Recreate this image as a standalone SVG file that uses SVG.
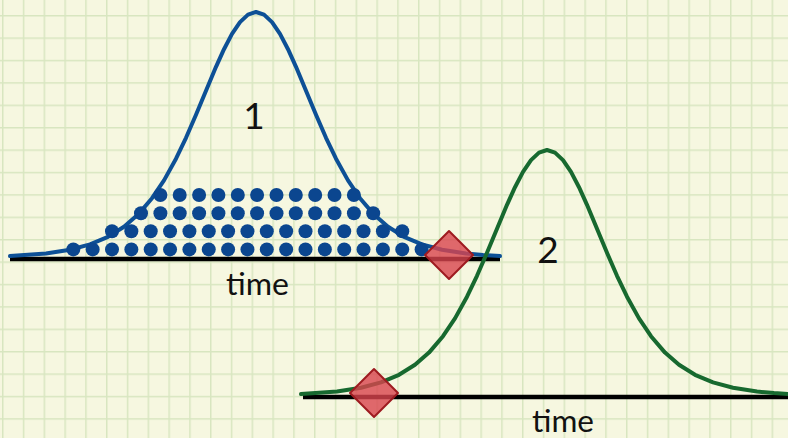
<svg xmlns="http://www.w3.org/2000/svg" width="788" height="438" viewBox="0 0 788 438">
<defs>
<pattern id="gridpat" x="2" y="15" width="20.8" height="22.4" patternUnits="userSpaceOnUse">
<path d="M0.75,0 V22.4 M0,0.75 H20.8" stroke="#d8e6c0" stroke-width="1.5" fill="none"/>
</pattern>
<path id="bell" d="M10,256.1 L46,253.5 L70,249.8 L90,244.4 L108,236.8 L124,226.8 L138,214.6 L152,198.2 L164,180.4 L176,158.7 L186,137.8 L196,114.8 L206,90.7 L216,66.8 L224,49.2 L232,33.9 L240,22.1 L248,14.6 L256,12 L264,14.6 L272,22.1 L280,33.9 L288,49.2 L296,66.8 L306,90.7 L316,114.8 L326,137.8 L336,158.7 L348,180.4 L360,198.2 L374,214.6 L388,226.8 L404,236.8 L422,244.4 L442,249.8 L466,253.5 L483,255.1 L500,256.1"/>
<path id="diamond" d="M0,-24 L24,0 L0,24 L-24,0 Z"/>
</defs>
<style>
.axis{stroke:#000;stroke-width:4.5;fill:none}
.curve{fill:none;stroke-width:4;stroke-linejoin:round;stroke-linecap:round}
.dot{fill:#0b468f}
.dia{fill:#d9434e;fill-opacity:0.8;stroke:#9e1b20;stroke-width:2;stroke-linejoin:round}
.lbl{font-family:Lato,"Open Sans","Liberation Sans",sans-serif;fill:#111}
</style>
<rect width="788" height="438" fill="#f6f7e0"/>
<rect width="788" height="438" fill="url(#gridpat)"/>

<g id="distribution1">
<line class="axis" x1="10" y1="259" x2="500" y2="259"/>
<use href="#bell" class="curve" stroke="#0d5096"/>
<g id="dots">
<circle class="dot" cx="73.3" cy="249.4" r="7"/><circle class="dot" cx="92.65" cy="249.4" r="7"/><circle class="dot" cx="112" cy="249.4" r="7"/><circle class="dot" cx="131.35" cy="249.4" r="7"/><circle class="dot" cx="150.7" cy="249.4" r="7"/><circle class="dot" cx="170.05" cy="249.4" r="7"/><circle class="dot" cx="189.4" cy="249.4" r="7"/><circle class="dot" cx="208.75" cy="249.4" r="7"/><circle class="dot" cx="228.1" cy="249.4" r="7"/><circle class="dot" cx="247.45" cy="249.4" r="7"/><circle class="dot" cx="266.8" cy="249.4" r="7"/><circle class="dot" cx="286.15" cy="249.4" r="7"/><circle class="dot" cx="305.5" cy="249.4" r="7"/><circle class="dot" cx="324.85" cy="249.4" r="7"/><circle class="dot" cx="344.2" cy="249.4" r="7"/><circle class="dot" cx="363.55" cy="249.4" r="7"/><circle class="dot" cx="382.9" cy="249.4" r="7"/><circle class="dot" cx="402.25" cy="249.4" r="7"/><circle class="dot" cx="421.6" cy="249.4" r="7"/>
<circle class="dot" cx="112" cy="231.3" r="7"/><circle class="dot" cx="131.35" cy="231.3" r="7"/><circle class="dot" cx="150.7" cy="231.3" r="7"/><circle class="dot" cx="170.05" cy="231.3" r="7"/><circle class="dot" cx="189.4" cy="231.3" r="7"/><circle class="dot" cx="208.75" cy="231.3" r="7"/><circle class="dot" cx="228.1" cy="231.3" r="7"/><circle class="dot" cx="247.45" cy="231.3" r="7"/><circle class="dot" cx="266.8" cy="231.3" r="7"/><circle class="dot" cx="286.15" cy="231.3" r="7"/><circle class="dot" cx="305.5" cy="231.3" r="7"/><circle class="dot" cx="324.85" cy="231.3" r="7"/><circle class="dot" cx="344.2" cy="231.3" r="7"/><circle class="dot" cx="363.55" cy="231.3" r="7"/><circle class="dot" cx="382.9" cy="231.3" r="7"/><circle class="dot" cx="402.25" cy="231.3" r="7"/>
<circle class="dot" cx="141" cy="213.2" r="7"/><circle class="dot" cx="160.4" cy="213.2" r="7"/><circle class="dot" cx="179.7" cy="213.2" r="7"/><circle class="dot" cx="199.1" cy="213.2" r="7"/><circle class="dot" cx="218.4" cy="213.2" r="7"/><circle class="dot" cx="237.8" cy="213.2" r="7"/><circle class="dot" cx="257.1" cy="213.2" r="7"/><circle class="dot" cx="276.5" cy="213.2" r="7"/><circle class="dot" cx="295.8" cy="213.2" r="7"/><circle class="dot" cx="315.2" cy="213.2" r="7"/><circle class="dot" cx="334.5" cy="213.2" r="7"/><circle class="dot" cx="353.9" cy="213.2" r="7"/><circle class="dot" cx="373.2" cy="213.2" r="7"/>
<circle class="dot" cx="160.4" cy="195" r="7"/><circle class="dot" cx="179.7" cy="195" r="7"/><circle class="dot" cx="199.1" cy="195" r="7"/><circle class="dot" cx="218.4" cy="195" r="7"/><circle class="dot" cx="237.8" cy="195" r="7"/><circle class="dot" cx="257.1" cy="195" r="7"/><circle class="dot" cx="276.5" cy="195" r="7"/><circle class="dot" cx="295.8" cy="195" r="7"/><circle class="dot" cx="315.2" cy="195" r="7"/><circle class="dot" cx="334.5" cy="195" r="7"/><circle class="dot" cx="353.9" cy="195" r="7"/>
</g>
<text class="lbl" x="254" y="128.5" font-size="37" text-anchor="middle">1</text>
<text class="lbl" x="226" y="295" font-size="30" textLength="63" lengthAdjust="spacingAndGlyphs">time</text>
<use id="marker1" href="#diamond" class="dia" x="449" y="255"/>
</g>

<g id="distribution2">
<line class="axis" x1="303" y1="397" x2="788" y2="397"/>
<use href="#bell" class="curve" stroke="#17692f" transform="translate(291,138)"/>
<text class="lbl" x="548" y="262.7" font-size="37" text-anchor="middle">2</text>
<text class="lbl" x="532" y="432" font-size="30" textLength="62" lengthAdjust="spacingAndGlyphs">time</text>
<use id="marker2" href="#diamond" class="dia" x="374" y="393"/>
</g>
</svg>
